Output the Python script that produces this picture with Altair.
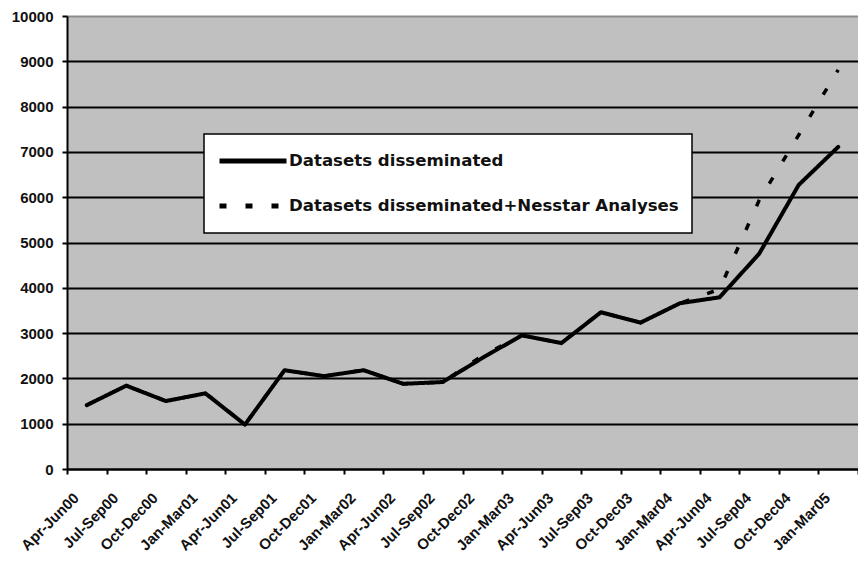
import altair as alt
import pandas as pd

quarters = [
    "Apr-Jun00", "Jul-Sep00", "Oct-Dec00", "Jan-Mar01", "Apr-Jun01",
    "Jul-Sep01", "Oct-Dec01", "Jan-Mar02", "Apr-Jun02", "Jul-Sep02",
    "Oct-Dec02", "Jan-Mar03", "Apr-Jun03", "Jul-Sep03", "Oct-Dec03",
    "Jan-Mar04", "Apr-Jun04", "Jul-Sep04", "Oct-Dec04", "Jan-Mar05",
]
disseminated = [1410, 1840, 1500, 1670, 980, 2180, 2050, 2180, 1880, 1920,
                2450, 2950, 2780, 3460, 3230, 3660, 3790, 4750, 6270, 7110]
with_nesstar = [1410, 1840, 1500, 1670, 980, 2180, 2050, 2180, 1880, 1920,
                2500, 2950, 2780, 3460, 3230, 3660, 3970, 5930, 7370, 8810]
series_names = ["Datasets disseminated", "Datasets disseminated+Nesstar Analyses"]
y_ticks = list(range(0, 10001, 1000))

rows = []
for q, a, b in zip(quarters, disseminated, with_nesstar):
    rows.append({"quarter": q, "series": series_names[0], "value": a})
    rows.append({"quarter": q, "series": series_names[1], "value": b})
df = pd.DataFrame(rows)

x_enc = alt.X(
    "quarter:N",
    sort=quarters,
    bandPosition=0.5,
    scale=alt.Scale(type="band", paddingInner=0, paddingOuter=0),
    axis=alt.Axis(
        title=None,
        labelAngle=-45,
        labelAlign="right",
        labelBaseline="middle",
        labelPadding=21,
        labelOffset=-11,
        labelFont="Liberation Sans",
        labelFontWeight="bold",
        labelFontSize=15,
        labelColor="#111111",
        tickBand="extent",
        tickSize=5,
        tickColor="black",
        tickWidth=2,
        domainColor="black",
        domainWidth=2,
        grid=False,
        labelOverlap=False,
    ),
)
y_enc = alt.Y(
    "value:Q",
    scale=alt.Scale(domain=[0, 10000], nice=False),
    axis=alt.Axis(
        title=None,
        values=y_ticks,
        format="d",
        labelFont="Liberation Sans",
        labelFontWeight="bold",
        labelFontSize=15,
        labelColor="#111111",
        labelPadding=9,
        tickSize=5,
        tickColor="black",
        tickWidth=2,
        domainColor="black",
        domainWidth=2,
        grid=True,
        gridColor={"condition": {"test": "datum.value === 10000", "value": "#8c8c8c"}, "value": "black"},
        gridWidth=2,
        gridOpacity=1,
    ),
)
dash_enc = alt.StrokeDash(
    "series:N",
    sort=series_names,
    scale=alt.Scale(domain=series_names, range=[[1, 0], [7, 19]]),
    legend=alt.Legend(
        title=None,
        orient="none",
        legendX=137,
        legendY=118,
        fillColor="white",
        strokeColor="black",
        padding=13,
        symbolType="stroke",
        symbolSize=4489,
        symbolStrokeWidth=5,
        symbolStrokeColor="black",
        labelFont="DejaVu Sans",
        labelFontWeight="bold",
        labelFontSize=16.6,
        labelColor="#111111",
        labelOffset=0,
        labelLimit=600,
        clipHeight=28,
        rowPadding=17,
    ),
)

base = alt.Chart(df).encode(x=x_enc, y=y_enc, strokeDash=dash_enc)

dashed = base.transform_filter(
    alt.datum.series == series_names[1]
).mark_line(color="black", strokeWidth=3.5, strokeJoin="round")

solid = base.transform_filter(
    alt.datum.series == series_names[0]
).mark_line(color="black", strokeWidth=4, strokeJoin="round", strokeCap="round")

chart = (
    alt.layer(dashed, solid)
    .properties(
        width=791,
        height=453,
        padding={"left": 59, "top": 8, "right": 0, "bottom": 86},
        autosize=alt.AutoSizeParams(type="none"),
        background="white",
    )
    .configure_view(fill="#c0c0c0", strokeWidth=0)
    .configure_legend(strokeWidth=1.5)
)

chart.save("out.html", embed_options={"renderer": "svg", "actions": False})
